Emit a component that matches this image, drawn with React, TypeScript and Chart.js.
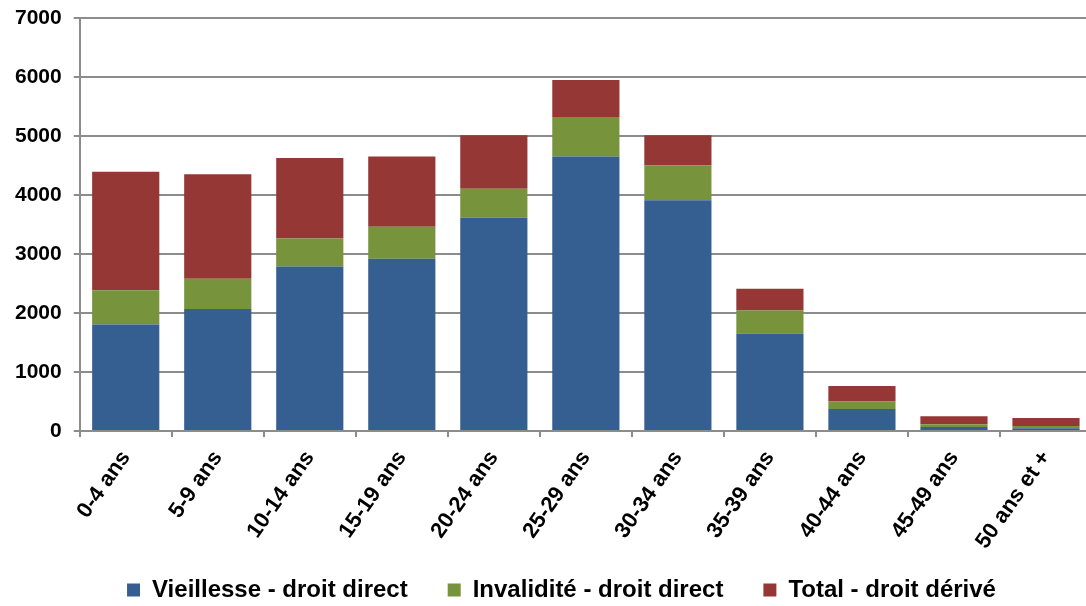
import React, { useEffect, useRef } from "react";
import { Chart, registerables } from "chart.js";

Chart.register(...registerables);

const categories = [
  "0-4 ans",
  "5-9 ans",
  "10-14 ans",
  "15-19 ans",
  "20-24 ans",
  "25-29 ans",
  "30-34 ans",
  "35-39 ans",
  "40-44 ans",
  "45-49 ans",
  "50 ans et +",
];

const vieillesseDirect = [1807, 2066, 2788, 2919, 3613, 4651, 3911, 1654, 373, 68, 46];
const invaliditeDirect = [580, 516, 474, 542, 491, 672, 588, 390, 125, 45, 39];
const totalDerive = [2005, 1769, 1367, 1190, 908, 627, 513, 367, 264, 136, 135];

const seriesNames = [
  "Vieillesse - droit direct",
  "Invalidité - droit direct",
  "Total - droit dérivé",
];
const seriesColors = ["#365F91", "#77933C", "#953735"];

const yMin = 0;
const yMax = 7000;
const yStep = 1000;

const layoutTweaks = {
  id: "layoutTweaks",
  afterLayout(chart: any) {
    const x = chart.scales.x;
    if (x) x.bottom = chart.height;
    const lg = chart.legend;
    if (lg) {
      lg.left += 14;
      lg.right += 14;
    }
  },
};

export default function App() {
  const canvasRef = useRef<HTMLCanvasElement | null>(null);

  useEffect(() => {
    if (!canvasRef.current) return;
    const font = "'Liberation Sans', Arial, sans-serif";
    const chart = new Chart(canvasRef.current, {
      type: "bar",
      data: {
        labels: categories,
        datasets: [vieillesseDirect, invaliditeDirect, totalDerive].map((d, i) => ({
          label: seriesNames[i],
          data: d,
          backgroundColor: seriesColors[i],
          borderWidth: 0,
          barPercentage: 0.73,
          categoryPercentage: 1,
        })),
      },
      plugins: [layoutTweaks],
      options: {
        responsive: false,
        animation: false,
        layout: { padding: { left: 3, top: 18, right: 0, bottom: -6 } },
        plugins: {
          legend: {
            position: "bottom",
            labels: {
              boxWidth: 13,
              boxHeight: 13,
              padding: 40,
              color: "#000",
              font: { family: font, size: 24, weight: "bold" },
            },
          },
          tooltip: { enabled: false },
        },
        scales: {
          x: {
            stacked: true,
            afterFit: (scale: any) => {
              scale.height = 107;
            },
            grid: {
              display: true,
              drawOnChartArea: false,
              drawTicks: true,
              tickLength: 6,
              color: "#8c8c8c",
              lineWidth: 2,
            },
            border: { display: true, color: "#8c8c8c", width: 2 },
            ticks: {
              color: "#000",
              font: { family: font, size: 22, weight: "bold" },
              minRotation: 55,
              maxRotation: 55,
              autoSkip: false,
              padding: 9,
            },
          },
          y: {
            stacked: true,
            min: yMin,
            max: yMax,
            afterFit: (scale: any) => {
              scale.paddingTop = 0;
              scale.paddingBottom = 0;
            },
            grid: {
              color: "#8c8c8c",
              lineWidth: 2,
              tickLength: 6,
            },
            border: { display: true, color: "#8c8c8c", width: 2 },
            ticks: {
              stepSize: yStep,
              color: "#000",
              padding: 12,
              font: { family: font, size: 21, weight: "bold" },
              callback: (v: any) => String(v),
            },
          },
        },
      },
    });
    return () => chart.destroy();
  }, []);

  return (
    <div
      style={{
        position: "fixed",
        left: 0,
        top: 0,
        width: 1086,
        height: 606,
        overflow: "hidden",
        background: "#fff",
      }}
    >
      <canvas ref={canvasRef} width={1092} height={606} style={{ display: "block" }} />
    </div>
  );
}
